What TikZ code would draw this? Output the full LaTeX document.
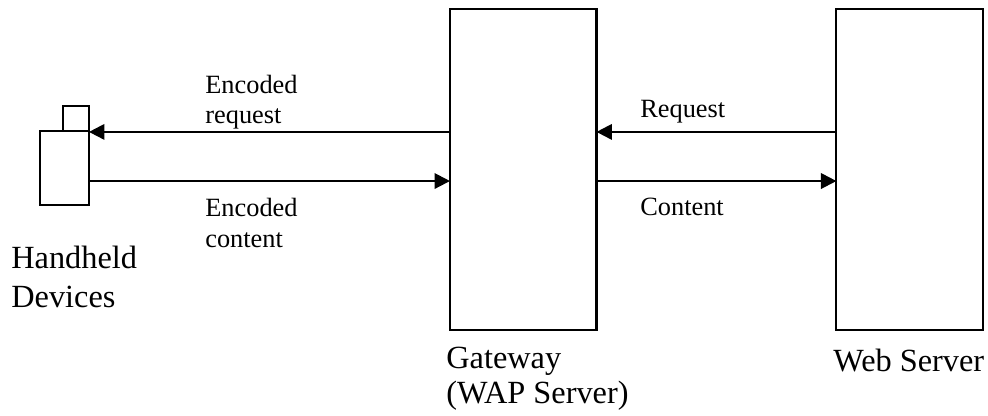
\documentclass[tikz,border=0pt]{standalone}
\usepackage{fontspec}
\setmainfont{Liberation Serif}
\usetikzlibrary{positioning,calc,arrows.meta}
\tikzset{
  unitbox/.style={draw,line width=1.2pt,inner sep=0pt,outer sep=0pt},
  serverbox/.style={unitbox,minimum width=2.93cm,minimum height=6.42cm},
  flow/.style={line width=1.2pt,-{Triangle[length=0.31cm,width=0.31cm]}},
  flowtext/.style={inner sep=0pt,anchor=base west,align=left,font=\fontsize{15}{18}\selectfont},
  nametext/.style={inner sep=0pt,anchor=base west,align=left,font=\fontsize{18.4}{22}\selectfont}
}
\begin{document}
\begin{tikzpicture}[x=0.02cm,y=-0.02cm]
 \useasboundingbox (0,0) rectangle (988,416);
 \node[serverbox,anchor=north west] at (450,9) (gateway) {};
 \node[serverbox,right=4.8cm of gateway] (web) {};
 \node[unitbox,minimum width=0.98cm,minimum height=1.48cm,anchor=north west] at (40,131) (body) {};
 \node[unitbox,minimum width=0.52cm,minimum height=0.5cm,above left=0cm and 0cm of body.north east] (aerial) {};
 %
 \coordinate (g1) at ($(gateway.north west)!0.383!(gateway.south west)$);
 \coordinate (g2) at ($(gateway.north west)!0.536!(gateway.south west)$);
 \coordinate (g3) at ($(gateway.north east)!0.383!(gateway.south east)$);
 \coordinate (g4) at ($(gateway.north east)!0.536!(gateway.south east)$);
 \coordinate (w1) at ($(web.north west)!0.383!(web.south west)$);
 \coordinate (w2) at ($(web.north west)!0.536!(web.south west)$);
 \coordinate (b1) at (g1 -| body.east);
 \coordinate (b2) at (g2 -| body.east);
 %
 \draw[flow] (g1) -- (b1);
 \draw[flow] (b2) -- (g2);
 \draw[flow] (w1) -- (g3);
 \draw[flow] (g4) -- (w2);
 %
 \node[flowtext] at (205,93) (enc1) {Encoded};
 \node[flowtext] at (205,123) (enc2) {request};
 \node[flowtext] at (205,216) (enc3) {Encoded};
 \node[flowtext] at (205,247) (enc4) {content};
 \node[flowtext] at (640,117) (req) {Request};
 \node[flowtext] at (640,215) (con) {Content};
 \node[nametext] at (11,268) (hand1) {Handheld};
 \node[nametext] at (11,307) (hand2) {Devices};
 \node[nametext] at (446,368) (gate1) {Gateway};
 \node[nametext] at (446,403) (gate2) {(WAP Server)};
 \node[nametext] at (833,371) (webname) {Web Server};
\end{tikzpicture}
\end{document}
